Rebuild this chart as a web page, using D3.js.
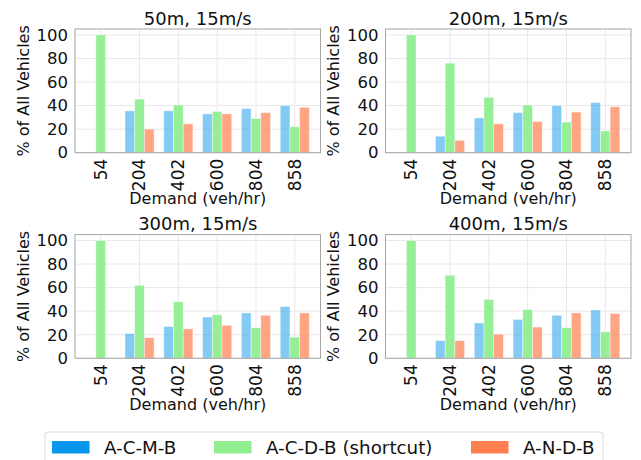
<!DOCTYPE html>
<html>
<head>
<meta charset="utf-8">
<script src="https://cdn.jsdelivr.net/npm/d3@7"></script>
<style>
  body { margin: 0; background: #fff; }
  svg { font-family: "DejaVu Sans", sans-serif; }
</style>
</head>
<body>
<svg id="Vis" width="641" height="460"></svg>
<script>
// demand levels (x categories) and the three routes
const demand = ["54", "204", "402", "600", "804", "858"];
const routes = ["A-C-M-B", "A-C-D-B (shortcut)", "A-N-D-B"];
const titles = ["50m, 15m/s", "200m, 15m/s", "300m, 15m/s", "400m, 15m/s"];
const yTicks = [0, 20, 40, 60, 80, 100];

// % of all vehicles per route, one array per panel
const acmb50 = [0, 35.5, 35.5, 33, 37.5, 40];
const acdb50 = [100, 45.5, 40.5, 35, 29, 22];
const andb50 = [0, 20, 24.5, 33, 34, 38.5];

const acmb200 = [0, 14, 29.5, 34, 40, 42.5];
const acdb200 = [100, 76, 47, 40.5, 26, 18.5];
const andb200 = [0, 10.5, 24.5, 26.5, 34.5, 39];

const acmb300 = [0, 21, 27, 35, 38.5, 44];
const acdb300 = [100, 62, 48, 37, 26, 18];
const andb300 = [0, 17.5, 25, 28, 36.5, 38.5];

const acmb400 = [0, 15, 30, 33, 36.5, 41];
const acdb400 = [100, 70.5, 50, 41.5, 26, 22.5];
const andb400 = [0, 15, 20.5, 26.5, 38.5, 38];

const panelData = [
  [acmb50, acdb50, andb50],
  [acmb200, acdb200, andb200],
  [acmb300, acdb300, andb300],
  [acmb400, acdb400, andb400]
];

const legendColors = ["#0897ec", "#90ee90", "#ff7f50"];
const barOpacity = [0.5, 0.95, 0.7];

// plot boxes (left, top) of the 2x2 grid
const plotW = 245.5, plotH = 123.7;
const origins = [[75, 29], [385.5, 29], [75, 234.6], [385.5, 234.6]];

const svg = d3.select("svg#Vis");

const x0 = d3.scaleBand()
  .domain(demand)
  .range([0, plotW])
  .paddingInner(0.25)
  .paddingOuter(0.2875);

const x1 = d3.scaleBand()
  .domain(d3.range(routes.length))
  .range([0, x0.bandwidth()]);

const y = d3.scaleLinear().domain([0, 105]).range([plotH, 0]);

panelData.forEach((series, p) => drawPanel(series, p));
drawLegend();

function drawPanel(series, p) {
  const [ox, oy] = origins[p];
  const g = svg.append("g").attr("transform", translate(ox, oy));

  // grid
  g.append("g").selectAll("line.h")
    .data(yTicks).enter().append("line")
      .attr("x1", 0).attr("x2", plotW)
      .attr("y1", d => y(d)).attr("y2", d => y(d))
      .attr("stroke", "#e8e8e8").attr("stroke-width", 1);
  g.append("g").selectAll("line.v")
    .data(demand).enter().append("line")
      .attr("x1", d => x0(d) + x0.bandwidth() / 2)
      .attr("x2", d => x0(d) + x0.bandwidth() / 2)
      .attr("y1", 0).attr("y2", plotH)
      .attr("stroke", "#e8e8e8").attr("stroke-width", 1);

  // bars
  series.forEach((vals, s) => {
    g.append("g").selectAll("rect")
      .data(vals).enter().append("rect")
        .attr("x", (d, i) => x0(demand[i]) + x1(s))
        .attr("y", d => y(d))
        .attr("width", x1.bandwidth())
        .attr("height", d => y(0) - y(d))
        .attr("fill", legendColors[s])
        .attr("fill-opacity", barOpacity[s])
        .attr("stroke", "#fff")
        .attr("stroke-opacity", 0.5)
        .attr("stroke-width", 0.8);
  });

  // axes
  const yAxis = d3.axisLeft(y).tickValues(yTicks).tickSize(0).tickPadding(7);
  const yG = g.append("g").call(yAxis);
  yG.select(".domain").remove();
  yG.selectAll("text").attr("font-size", 16.5).attr("fill", "#111")
    .attr("font-family", "DejaVu Sans");

  const xAxis = d3.axisBottom(x0).tickSize(0).tickPadding(0);
  const xG = g.append("g").attr("transform", translate(0, plotH)).call(xAxis);
  xG.select(".domain").remove();
  xG.selectAll("text")
    .attr("font-size", 17).attr("fill", "#111")
    .attr("font-family", "DejaVu Sans")
    .attr("transform", "rotate(-90)")
    .attr("text-anchor", "end")
    .attr("dy", "0.35em")
    .attr("x", -6).attr("y", 0);

  // frame
  g.append("rect")
    .attr("width", plotW).attr("height", plotH)
    .attr("fill", "none").attr("stroke", "#a6a6a6").attr("stroke-width", 1);

  // labels
  g.append("text")
    .attr("x", plotW / 2).attr("y", -4.5)
    .attr("text-anchor", "middle")
    .attr("font-size", 18).attr("fill", "#111")
    .text(titles[p]);

  g.append("text")
    .attr("x", plotW / 2).attr("y", plotH + 51.5)
    .attr("text-anchor", "middle")
    .attr("font-size", 16).attr("fill", "#111")
    .text("Demand (veh/hr)");

  g.append("text")
    .attr("transform", translate(-46.5, plotH / 2) + " rotate(-90)")
    .attr("text-anchor", "middle")
    .attr("font-size", 16).attr("fill", "#111")
    .text("% of All Vehicles");
}

function drawLegend() {
  const lg = svg.append("g").attr("id", "legend");
  lg.append("rect")
    .attr("x", 45).attr("y", 432).attr("width", 558).attr("height", 40)
    .attr("rx", 3).attr("fill", "#fff")
    .attr("stroke", "#d9d9d9").attr("stroke-width", 1);

  const itemX = [52, 214, 471];
  const items = lg.selectAll("g.item")
    .data(routes).enter().append("g")
      .attr("transform", (d, i) => translate(itemX[i], 441));
  items.append("rect")
    .attr("width", 37.5).attr("height", 12.5)
    .attr("fill", (d, i) => legendColors[i]);
  items.append("text")
    .attr("x", 52).attr("y", 6.5).attr("dy", "0.35em")
    .attr("font-size", 18.3).attr("fill", "#111")
    .text(d => d);
}

function translate(x, y) {
  return "translate(" + String(x) + "," + String(y) + ")";
}
</script>
</body>
</html>
